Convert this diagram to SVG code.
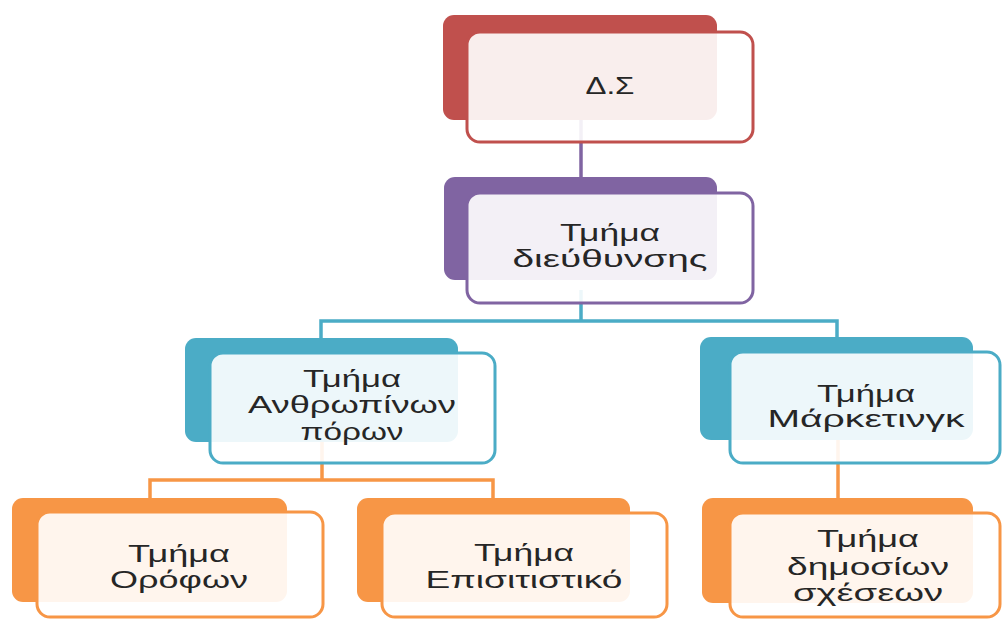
<svg xmlns="http://www.w3.org/2000/svg" width="1002" height="619" viewBox="0 0 1002 619">
<style>
.bg{stroke:none}
.fr{fill:#ffffff;fill-opacity:0.9;stroke-width:3}
.cn{fill:none;stroke-width:3.5}
.t{font-family:"Liberation Sans",Arial,sans-serif;font-size:24px;fill:#262626;text-anchor:middle}
.red .bg{fill:#C0504D}.red .fr{stroke:#C0504D}
.pur .bg{fill:#8064A2}.pur .fr{stroke:#8064A2}
.teal .bg{fill:#4BACC6}.teal .fr{stroke:#4BACC6}
.org .bg{fill:#F79646}.org .fr{stroke:#F79646}
</style>
<rect width="1002" height="619" fill="#ffffff"/>
<g id="connectors">
<path class="cn" stroke="#8064A2" d="M581 120V193"/>
<path class="cn" stroke="#4BACC6" d="M581 290V321M321 339V321H837V338"/>
<path class="cn" stroke="#F79646" d="M322 442V480M150 498V480H493V498"/>
<path class="cn" stroke="#F79646" d="M838 440V498"/>
</g>
<g id="node-ds" class="red">
<rect class="bg" x="443" y="15" width="274" height="105" rx="11"/>
<rect class="fr" x="467" y="32" width="286" height="110" rx="13"/>
<text class="t" x="610" y="94" textLength="49" lengthAdjust="spacingAndGlyphs">Δ.Σ</text>
</g>
<g id="node-dieuthynsi" class="pur">
<rect class="bg" x="444" y="177" width="273" height="103" rx="11"/>
<rect class="fr" x="467" y="193" width="286" height="110" rx="13"/>
<text class="t" x="610" y="241" textLength="100" lengthAdjust="spacingAndGlyphs">Τμήμα</text>
<text class="t" x="610" y="267" textLength="195" lengthAdjust="spacingAndGlyphs">διεύθυνσης</text>
</g>
<g id="node-anthropinoi" class="teal">
<rect class="bg" x="185" y="338" width="273" height="104" rx="11"/>
<rect class="fr" x="210" y="353" width="285" height="110" rx="13"/>
<text class="t" x="352" y="387" textLength="98" lengthAdjust="spacingAndGlyphs">Τμήμα</text>
<text class="t" x="352" y="413" textLength="208" lengthAdjust="spacingAndGlyphs">Ανθρωπίνων</text>
<text class="t" x="352" y="440" textLength="103" lengthAdjust="spacingAndGlyphs">πόρων</text>
</g>
<g id="node-marketing" class="teal">
<rect class="bg" x="700" y="337" width="273" height="103" rx="11"/>
<rect class="fr" x="730" y="352" width="270" height="111" rx="13"/>
<text class="t" x="866" y="402" textLength="98" lengthAdjust="spacingAndGlyphs">Τμήμα</text>
<text class="t" x="866" y="427" textLength="197" lengthAdjust="spacingAndGlyphs">Μάρκετινγκ</text>
</g>
<g id="node-orofon" class="org">
<rect class="bg" x="12" y="498" width="275" height="104" rx="11"/>
<rect class="fr" x="37" y="512" width="286" height="105" rx="13"/>
<text class="t" x="179" y="562" textLength="102" lengthAdjust="spacingAndGlyphs">Τμήμα</text>
<text class="t" x="179" y="588" textLength="138" lengthAdjust="spacingAndGlyphs">Ορόφων</text>
</g>
<g id="node-episitistiko" class="org">
<rect class="bg" x="357" y="498" width="273" height="104" rx="11"/>
<rect class="fr" x="382" y="513" width="285" height="104" rx="13"/>
<text class="t" x="524" y="561" textLength="100" lengthAdjust="spacingAndGlyphs">Τμήμα</text>
<text class="t" x="524" y="588" textLength="197" lengthAdjust="spacingAndGlyphs">Επισιτιστικό</text>
</g>
<g id="node-dimosies" class="org">
<rect class="bg" x="702" y="498" width="271" height="105" rx="11"/>
<rect class="fr" x="730" y="513" width="270" height="104" rx="13"/>
<text class="t" x="868" y="547" textLength="102" lengthAdjust="spacingAndGlyphs">Τμήμα</text>
<text class="t" x="868" y="575" textLength="162" lengthAdjust="spacingAndGlyphs">δημοσίων</text>
<text class="t" x="868" y="601" textLength="150" lengthAdjust="spacingAndGlyphs">σχέσεων</text>
</g>
</svg>
